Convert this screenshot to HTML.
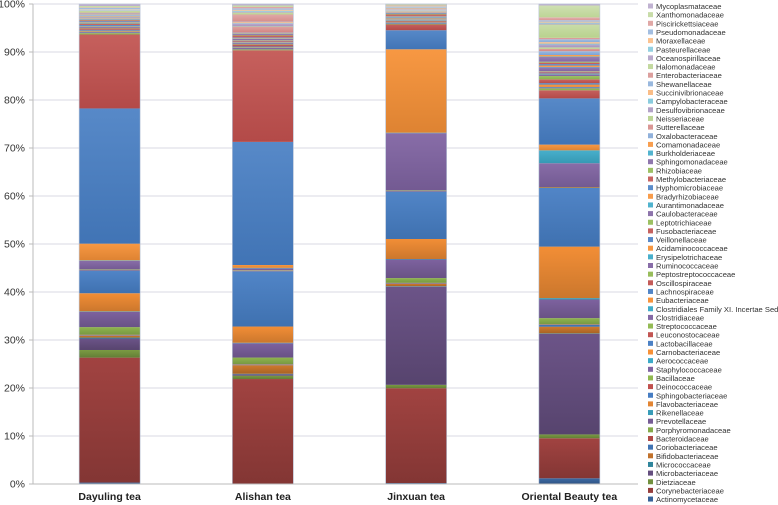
<!DOCTYPE html>
<html><head><meta charset="utf-8">
<style>
html,body{margin:0;padding:0;background:#fff;}
svg{display:block;font-family:"Liberation Sans",sans-serif;}
</style></head>
<body>
<svg id="chart" width="778" height="505" viewBox="0 0 778 505">
<defs id="defs"></defs>
<g id="grid"></g><g id="bars"></g><g id="axes"></g><g id="legend"></g>
</svg>
<script>
const categories = ["Dayuling tea","Alishan tea","Jinxuan tea","Oriental Beauty tea"];
const families = ["Actinomycetaceae","Corynebacteriaceae","Dietziaceae","Microbacteriaceae","Micrococcaceae","Bifidobacteriaceae","Coriobacteriaceae","Bacteroidaceae","Porphyromonadaceae","Prevotellaceae","Rikenellaceae","Flavobacteriaceae","Sphingobacteriaceae","Deinococcaceae","Bacillaceae","Staphylococcaceae","Aerococcaceae","Carnobacteriaceae","Lactobacillaceae","Leuconostocaceae","Streptococcaceae","Clostridiaceae","Clostridiales Family XI. Incertae Sedis","Eubacteriaceae","Lachnospiraceae","Oscillospiraceae","Peptostreptococcaceae","Ruminococcaceae","Erysipelotrichaceae","Acidaminococcaceae","Veillonellaceae","Fusobacteriaceae","Leptotrichiaceae","Caulobacteraceae","Aurantimonadaceae","Bradyrhizobiaceae","Hyphomicrobiaceae","Methylobacteriaceae","Rhizobiaceae","Sphingomonadaceae","Burkholderiaceae","Comamonadaceae","Oxalobacteraceae","Sutterellaceae","Neisseriaceae","Desulfovibrionaceae","Campylobacteraceae","Succinivibrionaceae","Shewanellaceae","Enterobacteriaceae","Halomonadaceae","Oceanospirillaceae","Pasteurellaceae","Moraxellaceae","Pseudomonadaceae","Piscirickettsiaceae","Xanthomonadaceae","Mycoplasmataceae"];
const dayuling = [0.3,26.2,1.6,2.4,0.2,0.4,0.1,0.1,1.6,3.2,0.1,3.8,4.8,0.1,0.1,1.8,0.1,3.5,28.35,15.5,0.3,0.2,0.1,0.2,0.2,0.3,0.1,0.2,0.1,0.1,0.2,0.2,0.1,0.1,0.1,0.1,0.2,0.2,0.1,0.1,0.1,0.1,0.2,0.2,0.1,0.1,0.1,0.1,0.2,0.2,0.4,0.1,0.1,0.1,0.3,0.1,0.3,0.4];
const alishan = [0.1,21.9,0.7,0.3,0.1,1.8,0.1,0.1,1.4,3.0,0.1,3.4,11.6,0.1,0.1,0.4,0.1,0.6,25.8,19.2,0.2,0.3,0.1,0.1,0.1,0.4,0.1,0.2,0.1,0.1,0.1,0.2,0.1,0.3,0.1,0.1,0.1,0.4,0.1,0.2,0.1,0.1,0.1,1.2,0.1,0.6,0.1,0.2,0.1,1.5,0.4,0.2,0.2,0.2,0.3,0.3,0.3,0.3];
const jinxuan = [0.2,19.9,0.7,20.6,0.1,0.5,0.1,0.1,1.0,3.9,0.1,4.2,10.0,0.1,0.1,12.0,0.1,17.5,4.0,1.2,0.1,0.1,0.1,0.1,0.1,0.2,0.1,0.1,0.1,0.1,0.1,0.1,0.1,0.1,0.1,0.1,0.1,0.3,0.1,0.1,0.1,0.1,0.1,0.1,0.1,0.1,0.1,0.1,0.1,0.2,0.1,0.1,0.1,0.1,0.1,0.1,0.2,0.1];
const oriental = [1.2,8.4,0.8,21.1,0.1,1.4,0.4,0.1,1.3,3.9,0.3,10.8,12.3,0.1,0.1,5.0,2.7,1.2,9.7,1.7,0.4,0.2,0.1,0.5,0.3,0.8,0.7,0.3,0.1,0.1,0.2,0.2,0.1,0.8,0.1,0.3,0.3,0.3,0.2,1.0,0.1,0.3,0.8,0.5,0.3,0.6,0.2,0.3,0.6,0.3,2.8,0.2,0.2,0.2,0.3,0.6,2.5,0.3];
const series = [dayuling, alishan, jinxuan, oriental];
const yTicks = ["0%","10%","20%","30%","40%","50%","60%","70%","80%","90%","100%"];

const NS="http://www.w3.org/2000/svg";
const plotL=33, plotR=646, gridR=638, y0=484, y100=4;
const yScale=p=>y0-(y0-y100)*p/100;
const bandW=(plotR-plotL)/categories.length, barW=61;
const xCenter=i=>plotL+bandW*(i+0.5);
const bases=[[70,125,195],[192,80,77],[145,185,80],[128,100,162],[60,170,200],[247,145,55]];
const shade=[-0.22,-0.08,0,0.03,0.06,0.1,0.12,0.4,0.45,0.5];
function famColor(i,f){const b=bases[i%6],c=Math.floor(i/6);let t=shade[c]??0.5;
 t+=f;return 'rgb('+b.map(v=>Math.round(t<0?v*(1+t):v+(255-v)*t)).join(',')+')';}
function el(tag,attrs,parent){const e=document.createElementNS(NS,tag);for(const k in attrs)e.setAttribute(k,attrs[k]);parent.appendChild(e);return e;}
const defs=document.getElementById('defs');
families.forEach((f,i)=>{const g=el('linearGradient',{id:'g'+i,x1:0,y1:0,x2:0,y2:1},defs);
 el('stop',{offset:0,'stop-color':famColor(i,0.06)},g);el('stop',{offset:1,'stop-color':famColor(i,-0.1)},g);});
const grid=document.getElementById('grid'), axes=document.getElementById('axes');
yTicks.forEach((t,k)=>{const y=yScale(k*10);
 const gl=el('line',{x1:plotL,x2:gridR,y1:y,y2:y,stroke:'#d9d9e3','stroke-width':1},grid);
 
 
 const tl=el('text',{x:25,y:y+3.5,'text-anchor':'end','font-size':10.5,fill:'#333'},axes);tl.textContent=t;
 
 
 const tk=el('line',{x1:plotL-4,x2:plotL,y1:y,y2:y,stroke:'#bbb'},axes);
 
 });
const ya=el('line',{x1:plotL,x2:plotL,y1:y100,y2:y0,stroke:'#bbb'},axes);


const xa=el('line',{x1:plotL,x2:gridR,y1:y0,y2:y0,stroke:'#bbb'},axes);


const barsG=document.getElementById('bars');
series.forEach((vals,ci)=>{const tot=vals.reduce((a,b)=>a+b,0);let cum=0;const cx=xCenter(ci);
 vals.forEach((v,fi)=>{const p0=cum/tot*100;cum+=v;const p1=cum/tot*100;
  const r=el('rect',{x:cx-barW/2,y:yScale(p1),width:barW,height:Math.max(0,yScale(p0)-yScale(p1)),fill:'url(#g'+fi+')'},barsG);
  
  });
 const o=el('rect',{x:cx-barW/2,y:y100,width:barW,height:y0-y100,fill:'none',stroke:'#b8c4d8','stroke-width':0.6},barsG);
 
 
 const lb=el('text',{x:cx,y:500,'text-anchor':'middle','font-size':10.5,'font-weight':'bold',fill:'#222'},axes);lb.textContent=categories[ci];
 
 });
const lg=document.getElementById('legend');
const n=families.length;
families.forEach((f,i)=>{const y=6+(n-1-i)*8.65;
 const g=el('g',{},lg);
 
 
 el('rect',{x:648,y:y-2.5,width:5,height:5,fill:famColor(i,0)},g);
 const t=el('text',{x:656,y:y+3,'font-size':7.6,fill:'#333'},g);t.textContent=f;});
</script>
</body></html>
